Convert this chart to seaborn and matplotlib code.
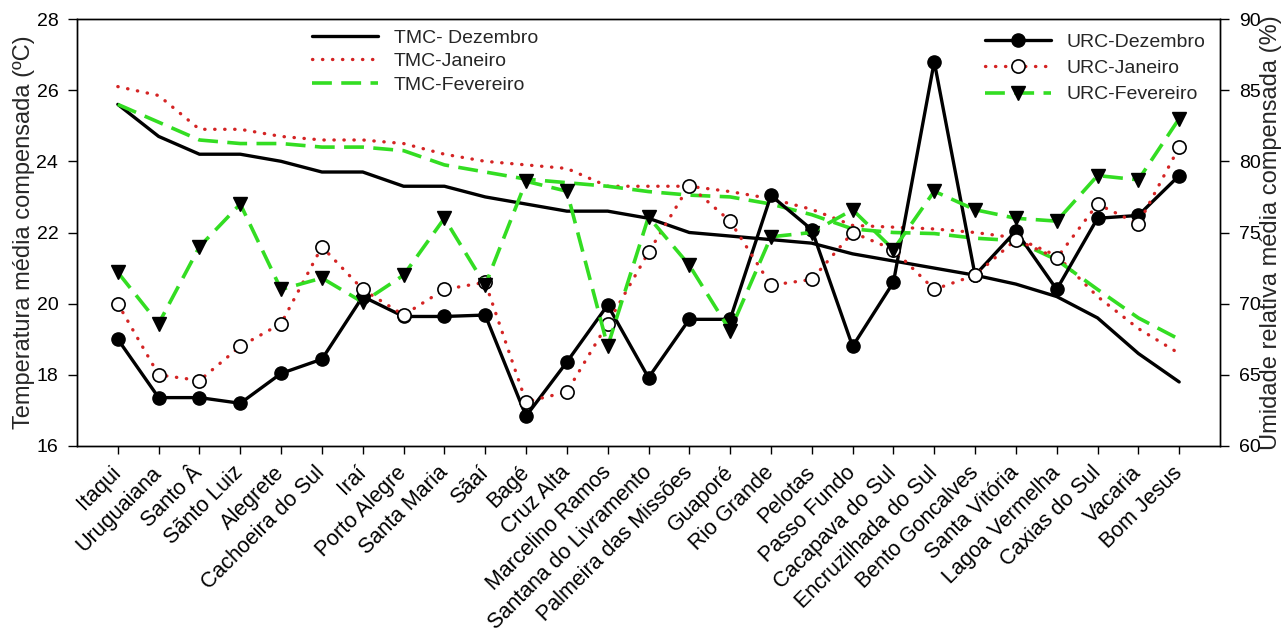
import numpy as np
import pandas as pd
import matplotlib
matplotlib.use("Agg")
import matplotlib.pyplot as plt
import seaborn as sns

# ---------------- data ----------------
categories = ["Itaqui", "Uruguaiana", "Santo Â", "Sãnto Luiz", "Alegrete",
              "Cachoeira do Sul", "Iraí", "Porto Alegre", "Santa Maria", "Sãaí",
              "Bagé", "Cruz Alta", "Marcelino Ramos", "Santana do Livramento",
              "Palmeira das Missões", "Guaporé", "Rio Grande", "Pelotas",
              "Passo Fundo", "Cacapava do Sul", "Encruzilhada do Sul",
              "Bento Goncalves", "Santa Vitória", "Lagoa Vermelha",
              "Caxias do Sul", "Vacaria", "Bom Jesus"]

tmc_dez = [25.6, 24.7, 24.2, 24.2, 24.0, 23.7, 23.7, 23.3, 23.3, 23.0, 22.8,
           22.6, 22.6, 22.4, 22.0, 21.9, 21.8, 21.7, 21.4, 21.2, 21.0, 20.8,
           20.55, 20.2, 19.6, 18.6, 17.8]
tmc_jan = [26.1, 25.85, 24.9, 24.9, 24.7, 24.6, 24.6, 24.5, 24.2, 24.0, 23.9,
           23.8, 23.3, 23.3, 23.3, 23.15, 22.95, 22.65, 22.2, 22.15, 22.1, 22.0,
           21.85, 21.35, 20.2, 19.3, 18.6]
tmc_fev = [25.6, 25.1, 24.6, 24.5, 24.5, 24.4, 24.4, 24.3, 23.9, 23.7, 23.5,
           23.4, 23.3, 23.15, 23.05, 23.0, 22.8, 22.5, 22.1, 22.0, 21.97, 21.84,
           21.77, 21.23, 20.4, 19.6, 19.0]

urc_dez = [67.5, 63.4, 63.4, 63.0, 65.1, 66.1, 70.5, 69.1, 69.1, 69.2, 62.1,
           65.9, 69.9, 64.8, 68.9, 68.9, 77.6, 75.2, 67.0, 71.5, 87.0, 72.0,
           75.1, 71.0, 76.0, 76.2, 79.0]
urc_jan = [70.0, 65.0, 64.6, 67.0, 68.6, 74.0, 71.0, 69.2, 71.0, 71.5, 63.1,
           63.8, 68.6, 73.6, 78.3, 75.8, 71.3, 71.7, 75.0, 73.8, 71.0, 72.0,
           74.5, 73.2, 77.0, 75.6, 81.0]
urc_fev = [72.2, 68.6, 74.0, 77.0, 71.0, 71.8, 70.1, 72.0, 76.0, 71.3, 78.6,
           77.9, 67.0, 76.1, 72.7, 68.1, 74.7, 75.0, 76.6, 73.8, 77.9, 76.6,
           76.0, 75.8, 79.0, 78.7, 83.0]

temp_ticks = [16, 18, 20, 22, 24, 26, 28]
hum_ticks = [60, 65, 70, 75, 80, 85, 90]

df = pd.DataFrame({"local": categories,
                   "TMC-Dez": tmc_dez, "TMC-Jan": tmc_jan, "TMC-Fev": tmc_fev,
                   "URC-Dez": urc_dez, "URC-Jan": urc_jan, "URC-Fev": urc_fev})

# ---------------- style ----------------
sns.set_theme(style="ticks")
plt.rcParams["font.family"] = ["Liberation Sans", "DejaVu Sans"]
plt.rcParams["axes.linewidth"] = 1.0
plt.rcParams["xtick.major.width"] = 1.0
plt.rcParams["ytick.major.width"] = 1.0
plt.rcParams["xtick.color"] = "black"
plt.rcParams["ytick.color"] = "black"
plt.rcParams["axes.edgecolor"] = "black"

RED = "#d42424"
GREEN = "#33dd22"
DOT = (0, (0.1, 2.9))
DASH = (0, (5.5, 2.6))

W, H = 1287, 641
fig = plt.figure(figsize=(W / 100, H / 100), dpi=100)
ax = fig.add_axes([77 / W, 1 - 446 / H, (1220 - 77) / W, (446 - 19) / H])
ax2 = ax.twinx()

# temperature (left axis)
sns.lineplot(data=df, x="local", y="TMC-Dez", ax=ax, sort=False, color="black",
             linewidth=2.4, label="TMC- Dezembro")
sns.lineplot(data=df, x="local", y="TMC-Jan", ax=ax, sort=False, color=RED,
             linewidth=2.4, linestyle=DOT, dash_capstyle="round",
             label="TMC-Janeiro")
sns.lineplot(data=df, x="local", y="TMC-Fev", ax=ax, sort=False, color=GREEN,
             linewidth=2.6, linestyle=DASH, label="TMC-Fevereiro")

# humidity (right axis)
sns.lineplot(data=df, x="local", y="URC-Dez", ax=ax2, sort=False, color="black",
             linewidth=2.4, marker="o", markersize=9.5, markerfacecolor="black",
             markeredgecolor="black", markeredgewidth=1.0, label="URC-Dezembro")
sns.lineplot(data=df, x="local", y="URC-Jan", ax=ax2, sort=False, color=RED,
             linewidth=2.4, linestyle=DOT, dash_capstyle="round",
             marker="o", markersize=9.5, markerfacecolor="white",
             markeredgecolor="black", markeredgewidth=1.2, label="URC-Janeiro")
sns.lineplot(data=df, x="local", y="URC-Fev", ax=ax2, sort=False, color=GREEN,
             linewidth=2.6, linestyle=DASH, marker="v", markersize=9.5,
             markerfacecolor="black", markeredgecolor="black",
             markeredgewidth=1.0, label="URC-Fevereiro")

# axes setup
ax.set_xlim(-1, len(categories))
ax.set_ylim(temp_ticks[0], temp_ticks[-1])
ax.set_yticks(temp_ticks)
ax2.set_ylim(hum_ticks[0], hum_ticks[-1])
ax2.set_yticks(hum_ticks)

ax.set_xlabel("")
ax.set_ylabel("Temperatura média compensada (ºC)", fontsize=17, labelpad=1)
ax2.set_ylabel("Umidade relativa média compensada (%)", fontsize=17, labelpad=0)

ax.tick_params(axis="y", direction="out", length=6.5, labelsize=14, pad=7)
ax2.tick_params(axis="y", direction="out", length=6.5, labelsize=14, pad=7)
ax.set_xticks(range(len(categories)))
ax.set_xticklabels(categories, rotation=45, ha="right", va="center",
                   rotation_mode="anchor", fontsize=15.5)
ax.tick_params(axis="x", direction="out", length=6, pad=11)

for a in (ax, ax2):
    for s in a.spines.values():
        s.set_visible(True)
        s.set_color("black")
        s.set_linewidth(1.0)

# legends
h1, l1 = ax.get_legend_handles_labels()
ax.legend(h1, l1, loc="upper left", bbox_to_anchor=(312 / W, 1 - 29 / H),
          bbox_transform=fig.transFigure, frameon=False, borderpad=0,
          borderaxespad=0, handlelength=3.4, handletextpad=0.8,
          labelspacing=0.3, fontsize=14)
h2, l2 = ax2.get_legend_handles_labels()
ax2.legend(h2, l2, loc="upper left", bbox_to_anchor=(985 / W, 1 - 33 / H),
           bbox_transform=fig.transFigure, frameon=False, borderpad=0,
           borderaxespad=0, handlelength=3.4, handletextpad=0.8,
           labelspacing=0.45, fontsize=14)

fig.savefig("out.png", dpi=100)
